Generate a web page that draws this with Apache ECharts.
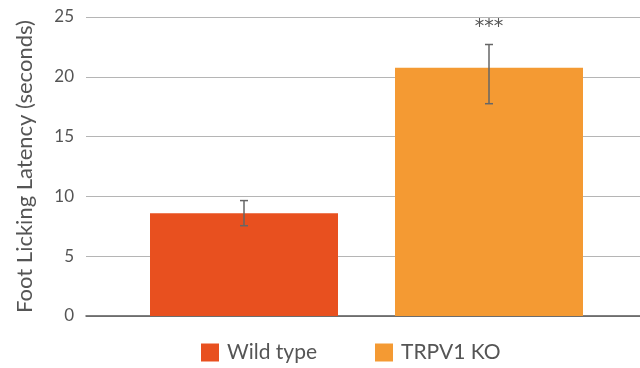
<!DOCTYPE html>
<html>
<head>
<meta charset="utf-8">
<script src="https://cdn.jsdelivr.net/npm/echarts@6/dist/echarts.min.js"></script>
<style>
  html, body { margin: 0; padding: 0; background: #fff; }
  #chart { width: 640px; height: 368px; }
</style>
</head>
<body>
<div id="chart"></div>
<script>
// Foot licking latency by genotype (mean with error range)
var groups = ['Wild type', 'TRPV1 KO'];
var meanValues = [8.6, 20.75];
var errorLow = [7.55, 17.75];
var errorHigh = [9.65, 22.7];
var significance = ['', '***'];
var barColors = ['#E8501F', '#F49A33'];
var yTicks = { min: 0, max: 25, step: 5 };

var FONT = 'Lato, "Open Sans", sans-serif';
var chart = echarts.init(document.getElementById('chart'));

// One series per group so the legend shows both; overlapping via barGap
var barSeries = groups.map(function (name, i) {
  return {
    name: name,
    type: 'bar',
    xAxisIndex: 1,
    yAxisIndex: 1,
    barWidth: 188,
    barGap: '-100%',
    itemStyle: { color: barColors[i] },
    data: meanValues.map(function (v, j) { return j === i ? v : '-'; }),
    z: 2
  };
});

var errorData = groups.map(function (g, i) {
  return [i, errorLow[i], errorHigh[i], significance[i]];
});

chart.setOption({
  animation: false,
  legend: {
    data: groups,
    left: 196,
    top: 337,
    icon: 'rect',
    itemWidth: 18,
    itemHeight: 18,
    itemGap: 58,
    textStyle: { fontFamily: FONT, fontSize: 21, color: '#555', padding: [0, 0, 0, 3] }
  },
  grid: [
    { left: 86, right: 0, top: 17, bottom: 52 },
    { left: 121.5, width: 490, top: 17, bottom: 52 }
  ],
  xAxis: [
    {
      type: 'category', gridIndex: 0, data: ['', ''],
      axisLine: { lineStyle: { color: '#555', width: 1.5 } },
      axisTick: { show: false }, axisLabel: { show: false }
    },
    {
      type: 'category', gridIndex: 1, data: groups,
      axisLine: { show: false }, axisTick: { show: false }, axisLabel: { show: false }
    }
  ],
  yAxis: [
    {
      type: 'value', gridIndex: 0,
      min: yTicks.min, max: yTicks.max, interval: yTicks.step,
      name: 'Foot Licking Latency (seconds)',
      nameLocation: 'middle',
      nameGap: 50,
      nameTextStyle: { fontFamily: FONT, fontSize: 22, color: '#555' },
      axisLine: { show: false }, axisTick: { show: false },
      axisLabel: { fontFamily: FONT, fontSize: 17, color: '#555', margin: 12 },
      splitLine: { lineStyle: { color: '#b5b5b5', width: 1 } }
    },
    {
      type: 'value', gridIndex: 1,
      min: yTicks.min, max: yTicks.max, interval: yTicks.step,
      axisLine: { show: false }, axisTick: { show: false },
      axisLabel: { show: false }, splitLine: { show: false }
    }
  ],
  series: barSeries.concat([{
    type: 'custom',
    xAxisIndex: 1,
    yAxisIndex: 1,
    z: 5,
    data: errorData,
    renderItem: function (params, api) {
      var x = api.value(0);
      var lo = api.coord([x, api.value(1)]);
      var hi = api.coord([x, api.value(2)]);
      var cap = 4;
      var style = { stroke: '#666', lineWidth: 1.5 };
      var children = [
        { type: 'line', shape: { x1: lo[0], y1: lo[1], x2: hi[0], y2: hi[1] }, style: style },
        { type: 'line', shape: { x1: lo[0] - cap, y1: lo[1], x2: lo[0] + cap, y2: lo[1] }, style: style },
        { type: 'line', shape: { x1: hi[0] - cap, y1: hi[1], x2: hi[0] + cap, y2: hi[1] }, style: style }
      ];
      var mark = api.value(3);
      if (mark) {
        children.push({
          type: 'text',
          style: {
            x: hi[0], y: hi[1] - 17, text: mark,
            textAlign: 'center', textVerticalAlign: 'middle',
            font: '19px "DejaVu Sans", sans-serif', fill: '#555'
          }
        });
      }
      return { type: 'group', children: children };
    }
  }])
});
</script>
</body>
</html>
